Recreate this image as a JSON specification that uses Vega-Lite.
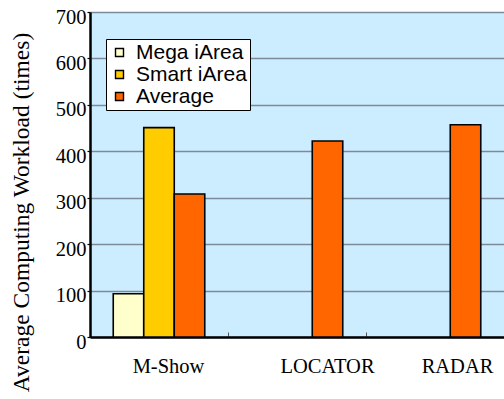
{
  "$schema": "https://vega.github.io/schema/vega-lite/v6.json",
  "autosize": {"type": "none"},
  "padding": {"left": 90, "top": 12, "right": 0, "bottom": 62},
  "width": 414,
  "height": 325,
  "background": "white",
  "config": {
    "view": {"fill": "#CCECFF", "stroke": null}
  },
  "data": {
    "values": [
      {"app": "M-Show", "series": "Mega iArea", "value": 93},
      {"app": "M-Show", "series": "Smart iArea", "value": 451},
      {"app": "M-Show", "series": "Average", "value": 308},
      {"app": "LOCATOR", "series": "Average", "value": 422},
      {"app": "RADAR", "series": "Average", "value": 457}
    ]
  },
  "mark": {"type": "bar", "stroke": "black", "strokeWidth": 1.6},
  "encoding": {
    "x": {
      "field": "app",
      "type": "nominal",
      "sort": ["M-Show", "LOCATOR", "RADAR"],
      "scale": {"paddingInner": 0, "paddingOuter": 0},
      "axis": {
        "title": null,
        "labelAngle": 0,
        "labelFont": "Liberation Serif",
        "labelFontSize": 20.5,
        "labelColor": "black",
        "labelBaseline": "alphabetic",
        "labelPadding": 40,
        "labelOffset": {
          "condition": [
            {"test": "datum.value === 'M-Show'", "value": 9},
            {"test": "datum.value === 'LOCATOR'", "value": 30}
          ],
          "value": 22
        },
        "tickBand": "extent",
        "tickSize": -5,
        "tickColor": "#555555",
        "tickWidth": 1,
        "domainColor": "black",
        "domainWidth": 2.5,
        "grid": false
      }
    },
    "xOffset": {
      "field": "series",
      "type": "nominal",
      "scale": {
        "domain": ["Mega iArea", "Smart iArea", "Average"],
        "paddingInner": 0,
        "paddingOuter": 0.762
      }
    },
    "y": {
      "field": "value",
      "type": "quantitative",
      "scale": {"domain": [0, 700], "nice": false},
      "axis": {
        "title": "Average Computing Workload (times)",
        "titleFont": "Liberation Serif",
        "titleFontSize": 23.5,
        "titleFontWeight": "normal",
        "titleColor": "black",
        "titleAngle": 270,
        "titleBaseline": "alphabetic",
        "titleAlign": "center",
        "titleX": -62,
        "titleY": 200,
        "values": [0, 100, 200, 300, 400, 500, 600, 700],
        "labelFont": "Liberation Serif",
        "labelFontSize": 20.5,
        "labelColor": "black",
        "labelPadding": 1,
        "labelOffset": 5,
        "labelOverlap": false,
        "labelFlush": false,
        "tickSize": 3,
        "tickColor": "black",
        "tickWidth": 1.2,
        "domainColor": "black",
        "domainWidth": 2.5,
        "grid": true,
        "gridColor": "#7d8b99",
        "gridWidth": 1.3
      }
    },
    "color": {
      "field": "series",
      "type": "nominal",
      "scale": {
        "domain": ["Mega iArea", "Smart iArea", "Average"],
        "range": ["#FFFFCC", "#FFCC00", "#FF6600"]
      },
      "legend": {
        "title": null,
        "orient": "none",
        "legendX": 16,
        "legendY": 27,
        "fillColor": "white",
        "strokeColor": "black",
        "padding": 3,
        "cornerRadius": 0,
        "symbolType": "square",
        "symbolSize": 64,
        "symbolStrokeColor": "black",
        "symbolStrokeWidth": 1.4,
        "symbolOpacity": 1,
        "labelFont": "Liberation Sans",
        "labelFontSize": 21,
        "labelColor": "black",
        "labelOffset": 6,
        "rowPadding": 0
      }
    }
  }
}
